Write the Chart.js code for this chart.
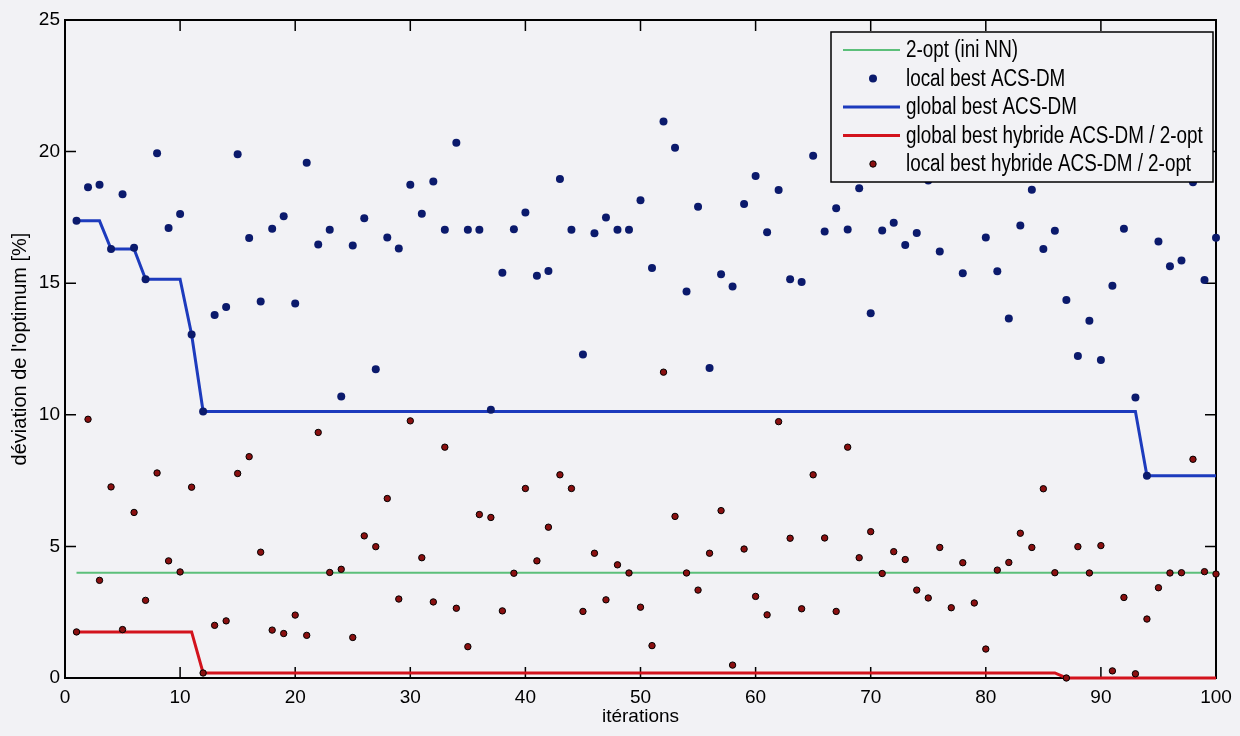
<!DOCTYPE html>
<html>
<head>
<meta charset="utf-8">
<script src="https://cdn.jsdelivr.net/npm/chart.js@4.4.1/dist/chart.umd.min.js"></script>
<style>
  html, body { margin: 0; padding: 0; background: #f2f2f5; }
  #wrap { width: 1240px; height: 736px; }
</style>
</head>
<body>
<div id="wrap"><canvas id="devChart" width="1240" height="736"></canvas></div>
<script>
// local best per iteration (iterations 1..100)
const localBestACS = [
  17.37, 18.65, 18.74, 16.30, 18.38, 16.35, 15.15, 19.94, 17.10, 17.63,
  13.05, 10.13, 13.79, 14.10, 19.90, 16.72, 14.30, 17.07, 17.54, 14.23,
  19.58, 16.47, 17.03, 10.70, 16.43, 17.47, 11.73, 16.74, 16.32, 18.74,
  17.64, 18.86, 17.03, 20.34, 17.03, 17.03, 10.19, 15.40, 17.05, 17.69,
  15.28, 15.46, 18.96, 17.03, 12.29, 16.90, 17.50, 17.03, 17.03, 18.15,
  15.58, 21.14, 20.15, 14.68, 17.90, 11.78, 15.34, 14.87, 18.01, 19.07,
  16.94, 18.54, 15.15, 15.05, 19.84, 16.96, 17.85, 17.04, 18.61, 13.86,
  17.00, 17.30, 16.45, 16.91, 18.90, 16.20, 20.30, 15.38, 19.90, 16.74,
  15.45, 13.66, 17.19, 18.55, 16.30, 16.99, 14.36, 12.23, 13.57, 12.08,
  14.90, 17.07, 10.66, 7.68, 16.58, 15.64, 15.86, 18.84, 15.12, 16.73
];
const localBestHybrid = [
  1.75, 9.83, 3.71, 7.26, 1.84, 6.29, 2.95, 7.79, 4.45, 4.03,
  7.25, 0.19, 2.00, 2.17, 7.77, 8.41, 4.78, 1.82, 1.69, 2.39,
  1.62, 9.33, 4.01, 4.13, 1.54, 5.40, 4.99, 6.82, 3.00, 9.77,
  4.57, 2.89, 8.77, 2.65, 1.19, 6.21, 6.10, 2.55, 3.98, 7.20,
  4.45, 5.73, 7.72, 7.20, 2.53, 4.74, 2.97, 4.30, 3.99, 2.69,
  1.23, 11.62, 6.14, 3.99, 3.34, 4.74, 6.36, 0.49, 4.90, 3.10,
  2.40, 9.74, 5.31, 2.63, 7.72, 5.32, 2.53, 8.77, 4.57, 5.56,
  3.97, 4.80, 4.50, 3.34, 3.04, 4.96, 2.67, 4.38, 2.85, 1.10,
  4.10, 4.39, 5.50, 4.96, 7.19, 4.00, 0.00, 4.99, 3.99, 5.03,
  0.27, 3.06, 0.16, 2.24, 3.43, 3.99, 4.00, 8.31, 4.04, 3.95
];
// global best curves, given at the iterations where they change
const globalACSIter = [1, 3, 4, 6, 7, 10, 11, 12, 93, 94, 100];
const globalACSVal  = [17.37, 17.37, 16.30, 16.30, 15.15, 15.15, 13.05, 10.13, 10.13, 7.68, 7.68];
const globalHybIter = [1, 11, 12, 86, 87, 100];
const globalHybVal  = [1.75, 1.75, 0.19, 0.19, 0.00, 0.00];
const twoOptIter = [1, 100];
const twoOptVal  = [4.00, 4.00];

const FONT = "'Liberation Sans', Arial, sans-serif";

const toPoints = vals => vals.map((v, i) => ({ x: i + 1, y: v }));
const toLine = (xs, ys) => xs.map((x, i) => ({ x: x, y: ys[i] }));

// matlab style box with inward ticks, drawn under the data
const axesBox = {
  id: 'axesBox',
  beforeDatasetsDraw(chart) {
    const { ctx, chartArea: a, scales } = chart;
    ctx.save();
    ctx.strokeStyle = '#000';
    ctx.lineWidth = 1.5;
    ctx.beginPath();
    scales.x.ticks.forEach(t => {
      const px = scales.x.getPixelForValue(t.value);
      ctx.moveTo(px, a.bottom); ctx.lineTo(px, a.bottom - 11);
      ctx.moveTo(px, a.top); ctx.lineTo(px, a.top + 11);
    });
    scales.y.ticks.forEach(t => {
      const py = scales.y.getPixelForValue(t.value);
      ctx.moveTo(a.left, py); ctx.lineTo(a.left + 11, py);
      ctx.moveTo(a.right, py); ctx.lineTo(a.right - 11, py);
    });
    ctx.stroke();
    ctx.lineWidth = 2;
    ctx.strokeRect(a.left, a.top, a.right - a.left, a.bottom - a.top);
    ctx.restore();
  }
};

// legend box inside the plot, top right
const legendBox = {
  id: 'legendBox',
  afterDatasetsDraw(chart) {
    const { ctx, chartArea: a } = chart;
    const w = 382, h = 150;
    const x0 = a.right - w - 3, y0 = a.top + 12;
    ctx.save();
    ctx.fillStyle = '#f2f2f5';
    ctx.fillRect(x0, y0, w, h);
    ctx.strokeStyle = '#000';
    ctx.lineWidth = 1.5;
    ctx.strokeRect(x0, y0, w, h);
    chart.data.datasets.forEach((ds, i) => {
      const cy = y0 + 18 + i * 28.5;
      if (ds.showLine) {
        ctx.strokeStyle = ds.borderColor;
        ctx.lineWidth = ds.borderWidth;
        ctx.beginPath();
        ctx.moveTo(x0 + 12, cy); ctx.lineTo(x0 + 69, cy);
        ctx.stroke();
      } else {
        ctx.fillStyle = ds.pointBackgroundColor;
        ctx.strokeStyle = ds.pointBorderColor;
        ctx.lineWidth = ds.pointBorderWidth;
        ctx.beginPath();
        ctx.arc(x0 + 42, cy, ds.pointRadius, 0, Math.PI * 2);
        ctx.fill();
        if (ds.pointBorderWidth) ctx.stroke();
      }
      // narrow text like the original print
      ctx.save();
      ctx.translate(x0 + 75, cy);
      ctx.scale(0.82, 1);
      ctx.font = '23px ' + FONT;
      ctx.textBaseline = 'middle';
      ctx.fillStyle = '#000';
      ctx.fillText(ds.label, 0, 1);
      ctx.restore();
    });
    ctx.restore();
  }
};

new Chart(document.getElementById('devChart'), {
  type: 'scatter',
  data: {
    datasets: [
      {
        label: '2-opt (ini NN)',
        data: toLine(twoOptIter, twoOptVal),
        showLine: true, borderColor: '#5cbf7a', borderWidth: 2,
        pointRadius: 0, order: 5
      },
      {
        label: 'local best ACS-DM',
        data: toPoints(localBestACS),
        showLine: false, pointRadius: 4,
        pointBackgroundColor: '#0b1a6c', pointBorderColor: '#0b1a6c', pointBorderWidth: 0,
        order: 2, clip: false
      },
      {
        label: 'global best ACS-DM',
        data: toLine(globalACSIter, globalACSVal),
        showLine: true, borderColor: '#1d3bbd', borderWidth: 3,
        pointRadius: 0, order: 3
      },
      {
        label: 'global best hybride ACS-DM / 2-opt',
        data: toLine(globalHybIter, globalHybVal),
        showLine: true, borderColor: '#d3131d', borderWidth: 3,
        pointRadius: 0, order: 4, clip: false
      },
      {
        label: 'local best hybride ACS-DM / 2-opt',
        data: toPoints(localBestHybrid),
        showLine: false, pointRadius: 3.2,
        pointBackgroundColor: '#8a1010', pointBorderColor: '#000', pointBorderWidth: 1,
        order: 1, clip: false
      }
    ]
  },
  options: {
    responsive: false,
    animation: false,
    events: [],
    layout: { padding: { left: 0, right: 24, top: 20, bottom: 0 } },
    plugins: { legend: { display: false }, tooltip: { enabled: false } },
    scales: {
      x: {
        type: 'linear', min: 0, max: 100,
        grid: { drawOnChartArea: false, drawTicks: false },
        border: { display: false },
        ticks: { stepSize: 10, padding: 8, color: '#000', font: { family: FONT, size: 19 } },
        title: { display: true, text: 'itérations', color: '#000',
                 font: { family: FONT, size: 19 }, padding: { top: 0, bottom: 8 } },
        afterFit(scale) { scale.height = 58; }
      },
      y: {
        min: 0, max: 25,
        grid: { drawOnChartArea: false, drawTicks: false },
        border: { display: false },
        ticks: { stepSize: 5, padding: 5, color: '#000', font: { family: FONT, size: 19 } },
        title: { display: true, text: "déviation de l'optimum [%]", color: '#000',
                 font: { family: FONT, size: 20 }, padding: { top: 8, bottom: 0 } },
        afterFit(scale) { scale.width = 65; }
      }
    }
  },
  plugins: [axesBox, legendBox]
});
</script>
</body>
</html>
